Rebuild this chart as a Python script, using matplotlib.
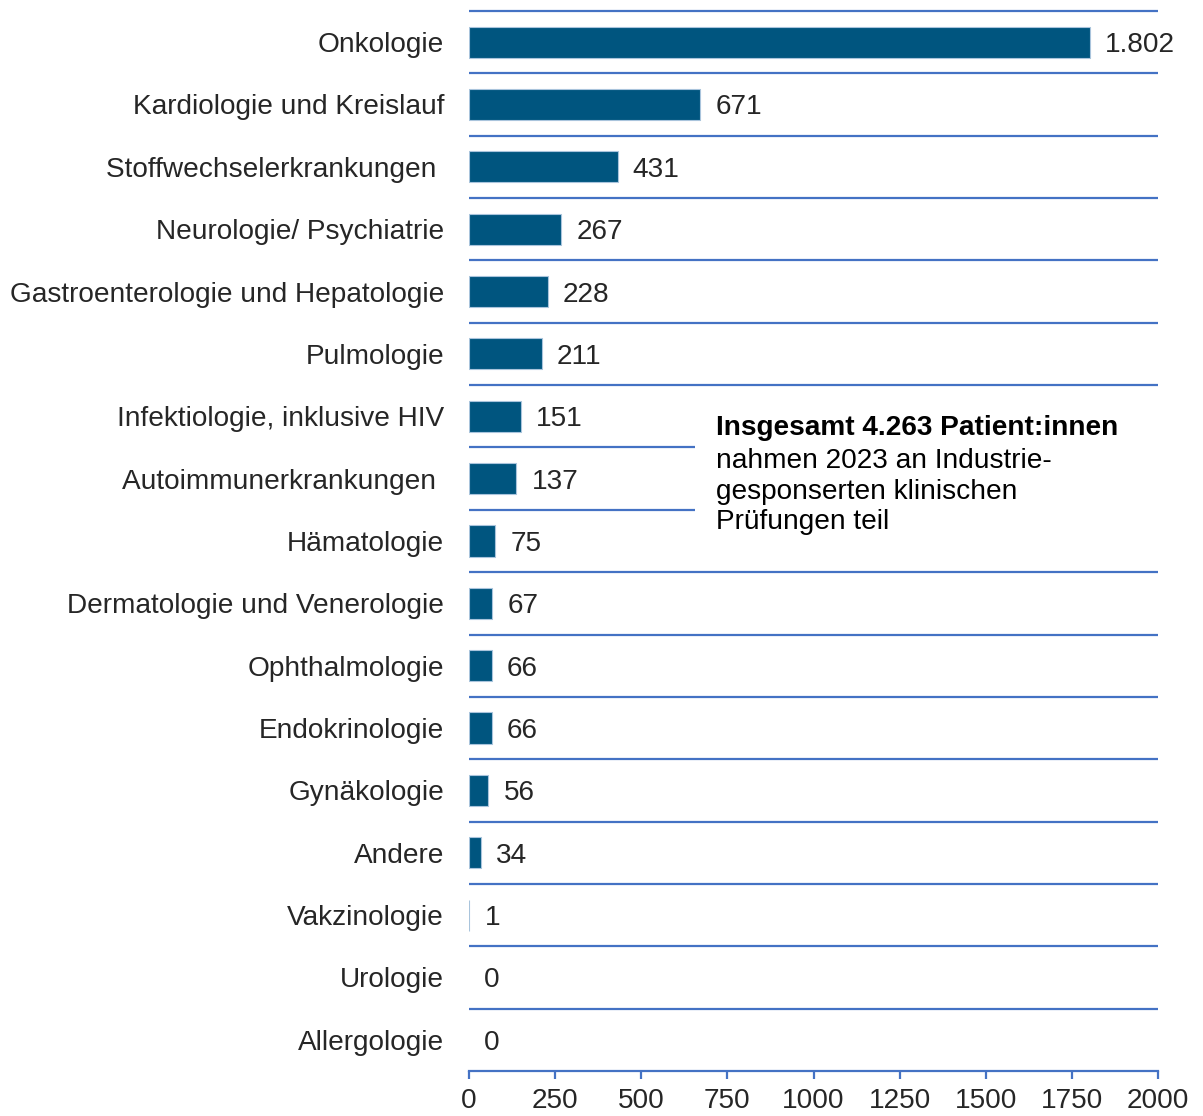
import matplotlib.pyplot as plt
from matplotlib.patches import Rectangle
import numpy as np

plt.rcParams['font.family'] = ['Liberation Sans', 'DejaVu Sans']

categories = ['Onkologie', 'Kardiologie und Kreislauf', 'Stoffwechselerkrankungen ',
              'Neurologie/ Psychiatrie', 'Gastroenterologie und Hepatologie', 'Pulmologie',
              'Infektiologie, inklusive HIV', 'Autoimmunerkrankungen ', 'Hämatologie',
              'Dermatologie und Venerologie', 'Ophthalmologie', 'Endokrinologie',
              'Gynäkologie', 'Andere', 'Vakzinologie', 'Urologie', 'Allergologie']
values = [1802, 671, 431, 267, 228, 211, 151, 137, 75, 67, 66, 66, 56, 34, 1, 0, 0]
xticks = [0, 250, 500, 750, 1000, 1250, 1500, 1750, 2000]

bar_color = '#00557f'
line_color = '#4472c4'
text_color = '#262626'
fs = 20.2

fig = plt.figure(figsize=(12.03, 11.16), dpi=100)
ax = fig.add_axes([0.3899, 0.0403, 0.5727, 0.9499])

y = np.arange(len(categories))
edges = ['#a9c4dc' if v > 0 else 'none' for v in values]
ax.barh(y, values, height=0.5, color=bar_color, edgecolor=edges, linewidth=0.8, zorder=3)
ax.set_ylim(len(categories) - 0.5, -0.5)
ax.set_xlim(0, 2000)

# row separators
ax.hlines(np.arange(len(categories)) - 0.5, 0, 2000, color=line_color, lw=1.6, zorder=1, clip_on=False)

# value labels
for yi, v in zip(y, values):
    ax.annotate(f"{v:,}".replace(",", "."), (v, yi), xytext=(11, 0), textcoords='offset points',
                va='center_baseline', ha='left', fontsize=fs, color=text_color)

ax.set_yticks(y)
ax.set_yticklabels(categories, fontsize=fs, color=text_color)
ax.tick_params(axis='y', length=0, pad=18)
ax.set_xticks(xticks)
ax.set_xticklabels([str(t) for t in xticks], fontsize=fs, color=text_color)
ax.tick_params(axis='x', length=6, width=1.6, color=line_color, pad=6.5)

for s in ['left', 'right', 'top']:
    ax.spines[s].set_visible(False)
ax.spines['bottom'].set_color(line_color)
ax.spines['bottom'].set_linewidth(1.6)

# annotation box covering two separators
ax.add_patch(Rectangle((656, 5.55), 1344, 2.9, facecolor='white', edgecolor='none', zorder=2))
ax.text(0.3585, 0.607, 'Insgesamt 4.263 Patient:innen', transform=ax.transAxes,
        fontsize=fs, fontweight='bold', color='black', va='center', ha='left', zorder=4)
ax.text(0.3585, 0.5877, 'nahmen 2023 an Industrie-\ngesponserten klinischen\nPrüfungen teil',
        transform=ax.transAxes, fontsize=fs, color='black', va='top', ha='left',
        linespacing=1.23, zorder=4)

fig.savefig('out.png', dpi=100)
